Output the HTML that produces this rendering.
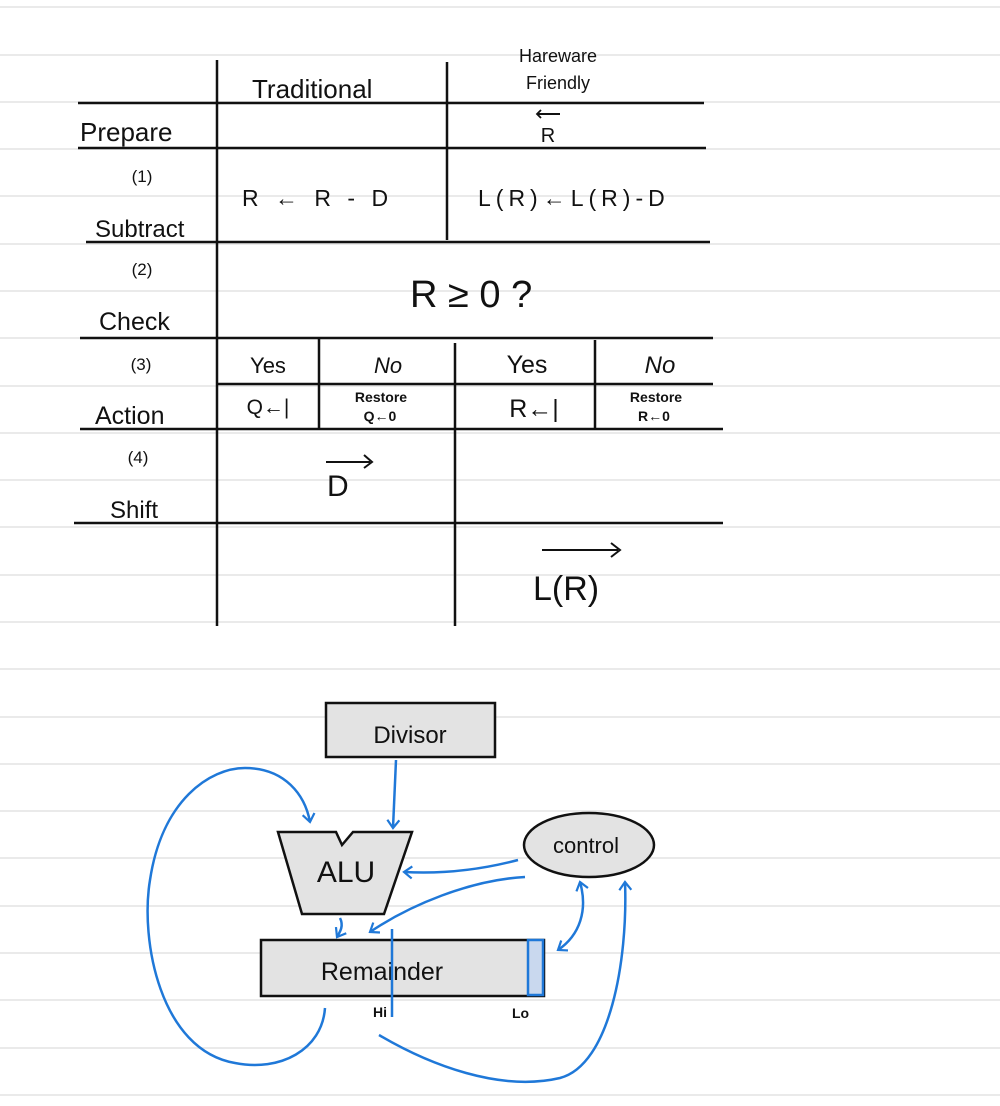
<!DOCTYPE html>
<html><head><meta charset="utf-8"><style>
html,body{margin:0;padding:0;background:#fff;}
svg{display:block;}
text{font-family:"Liberation Sans",sans-serif;fill:#111;}
</style></head><body>
<svg width="1000" height="1106" viewBox="0 0 1000 1106" xmlns="http://www.w3.org/2000/svg">
<defs>
<marker id="ah" markerWidth="14" markerHeight="14" refX="9" refY="7" orient="auto" markerUnits="userSpaceOnUse">
<path d="M1,1 L9,7 L1,13" fill="none" stroke="#1f78d8" stroke-width="2.2"/>
</marker>
<marker id="ahb" markerWidth="14" markerHeight="14" refX="9" refY="7" orient="auto-start-reverse" markerUnits="userSpaceOnUse">
<path d="M1,1 L9,7 L1,13" fill="none" stroke="#1f78d8" stroke-width="2.2"/>
</marker>
</defs>
<g stroke="#e4e4e4" stroke-width="1.5">
<line x1="0" y1="7" x2="1000" y2="7"/><line x1="0" y1="55" x2="1000" y2="55"/><line x1="0" y1="102" x2="1000" y2="102"/><line x1="0" y1="149" x2="1000" y2="149"/><line x1="0" y1="196" x2="1000" y2="196"/><line x1="0" y1="244" x2="1000" y2="244"/><line x1="0" y1="291" x2="1000" y2="291"/><line x1="0" y1="338" x2="1000" y2="338"/><line x1="0" y1="386" x2="1000" y2="386"/><line x1="0" y1="433" x2="1000" y2="433"/><line x1="0" y1="480" x2="1000" y2="480"/><line x1="0" y1="527" x2="1000" y2="527"/><line x1="0" y1="575" x2="1000" y2="575"/><line x1="0" y1="622" x2="1000" y2="622"/><line x1="0" y1="669" x2="1000" y2="669"/><line x1="0" y1="717" x2="1000" y2="717"/><line x1="0" y1="764" x2="1000" y2="764"/><line x1="0" y1="811" x2="1000" y2="811"/><line x1="0" y1="858" x2="1000" y2="858"/><line x1="0" y1="906" x2="1000" y2="906"/><line x1="0" y1="953" x2="1000" y2="953"/><line x1="0" y1="1000" x2="1000" y2="1000"/><line x1="0" y1="1048" x2="1000" y2="1048"/><line x1="0" y1="1095" x2="1000" y2="1095"/>
</g>
<g stroke="#111" stroke-width="2.5" fill="none">
<line x1="217" y1="60" x2="217" y2="626"/>
<line x1="447" y1="62" x2="447" y2="240"/>
<line x1="455" y1="343" x2="455" y2="626"/>
<line x1="78" y1="103" x2="704" y2="103"/>
<line x1="78" y1="148" x2="706" y2="148"/>
<line x1="86" y1="242" x2="710" y2="242"/>
<line x1="80" y1="338" x2="713" y2="338"/>
<line x1="217" y1="384" x2="713" y2="384"/>
<line x1="80" y1="429" x2="723" y2="429"/>
<line x1="74" y1="523" x2="723" y2="523"/>
<line x1="319" y1="338" x2="319" y2="429"/>
<line x1="595" y1="340" x2="595" y2="429"/>
<line x1="538" y1="114" x2="560" y2="114" stroke-width="2"/>
<path d="M541,110 L537,114 L541,118" stroke-width="1.8"/>
<line x1="326" y1="462" x2="370" y2="462" stroke-width="2"/>
<path d="M364,455 L372,462 L364,468" stroke-width="2"/>
<line x1="542" y1="550" x2="618" y2="550" stroke-width="2"/>
<path d="M611,543 L620,550 L611,557" stroke-width="2"/>
</g>
<text x="252" y="98" font-size="26">Traditional</text>
<text x="558" y="62" font-size="18" text-anchor="middle">Hareware</text>
<text x="558" y="89" font-size="18" text-anchor="middle">Friendly</text>
<text x="80" y="141" font-size="26">Prepare</text>
<text x="548" y="142" font-size="20" text-anchor="middle">R</text>
<text x="142" y="182" font-size="17" text-anchor="middle">(1)</text>
<text x="242" y="206" font-size="23" letter-spacing="5">R ← R - D</text>
<text x="478" y="206" font-size="23" letter-spacing="5">L(R)←L(R)-D</text>
<text x="95" y="237" font-size="24">Subtract</text>
<text x="142" y="275" font-size="17" text-anchor="middle">(2)</text>
<text x="410" y="307" font-size="38">R ≥ 0 ?</text>
<text x="99" y="330" font-size="25">Check</text>
<text x="141" y="370" font-size="17" text-anchor="middle">(3)</text>
<text x="268" y="373" font-size="22" text-anchor="middle">Yes</text>
<text x="388" y="373" font-size="22" text-anchor="middle" font-style="italic">No</text>
<text x="527" y="373" font-size="25" text-anchor="middle">Yes</text>
<text x="660" y="373" font-size="24" text-anchor="middle" font-style="italic">No</text>
<text x="268" y="414" font-size="21" text-anchor="middle">Q←|</text>
<text x="381" y="402" font-size="14" text-anchor="middle" font-weight="bold">Restore</text>
<text x="380" y="421" font-size="14" text-anchor="middle" font-weight="bold">Q←0</text>
<text x="534" y="417" font-size="25" text-anchor="middle">R←|</text>
<text x="656" y="402" font-size="14" text-anchor="middle" font-weight="bold">Restore</text>
<text x="654" y="421" font-size="14" text-anchor="middle" font-weight="bold">R←0</text>
<text x="95" y="424" font-size="25">Action</text>
<text x="138" y="463" font-size="17" text-anchor="middle">(4)</text>
<text x="327" y="496" font-size="30">D</text>
<text x="110" y="518" font-size="24">Shift</text>
<text x="533" y="600" font-size="34">L(R)</text>

<rect x="326" y="703" width="169" height="54" fill="#e3e3e3" stroke="#111" stroke-width="2.5"/>
<text x="410" y="743" font-size="24" text-anchor="middle">Divisor</text>
<path d="M278,832 L336,832 L342,845 L353,832 L412,832 L384,914 L302,914 Z" fill="#e3e3e3" stroke="#111" stroke-width="2.5"/>
<text x="346" y="882" font-size="30" text-anchor="middle">ALU</text>
<rect x="261" y="940" width="283" height="56" fill="#e3e3e3" stroke="#111" stroke-width="2.5"/>
<rect x="528" y="940" width="15" height="55" fill="#c9d8ee" stroke="#1f78d8" stroke-width="2.5"/>
<text x="382" y="980" font-size="25" text-anchor="middle">Remainder</text>
<ellipse cx="589" cy="845" rx="65" ry="32" fill="#e3e3e3" stroke="#111" stroke-width="2.5"/>
<text x="586" y="853" font-size="22" text-anchor="middle">control</text>
<text x="373" y="1017" font-size="14" font-weight="bold">Hi</text>
<text x="512" y="1018" font-size="14" font-weight="bold">Lo</text>
<g stroke="#1f78d8" stroke-width="2.5" fill="none">
<line x1="392" y1="929" x2="392" y2="1017"/>
<path d="M396,760 L393,828" marker-end="url(#ah)"/>
<path d="M325,1008 C322,1050 280,1072 235,1063 C160,1050 140,940 150,880 C162,800 210,768 245,768 C285,768 305,795 310,822" marker-end="url(#ah)"/>
<path d="M340,918 C344,926 340,932 337,937" marker-end="url(#ah)"/>
<path d="M518,860 C480,870 440,874 404,872" marker-end="url(#ah)"/>
<path d="M525,877 C470,880 410,905 370,932" marker-end="url(#ah)"/>
<path d="M580,882 C588,910 580,935 558,950" marker-start="url(#ahb)" marker-end="url(#ahb)"/>
<path d="M379,1035 C430,1065 500,1092 560,1078 C610,1065 628,960 625,882" marker-end="url(#ah)"/>
</g>
</svg>
</body></html>
